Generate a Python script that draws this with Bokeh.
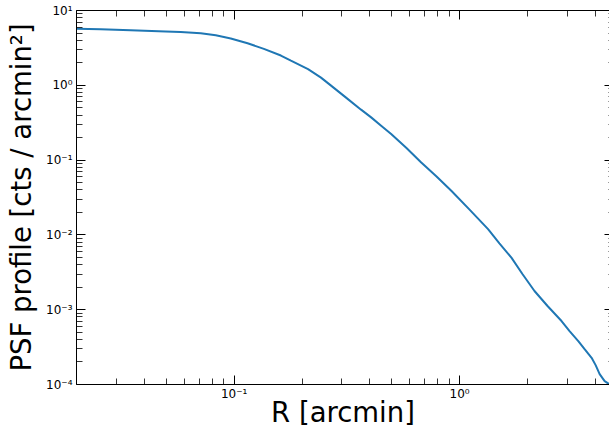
from bokeh.plotting import figure
from bokeh.models import LogAxis, FixedTicker, CustomJSTickFormatter
from bokeh.embed import file_html
from bokeh.resources import INLINE

# ---- data ----
r_arcmin = [0.0200, 0.02557, 0.03475, 0.04970, 0.05795, 0.07112, 0.08292, 0.09665,
            0.1147, 0.1355, 0.1612, 0.1786, 0.2127, 0.2428, 0.2691, 0.3136, 0.3656,
            0.4052, 0.4487, 0.4970, 0.5796, 0.6758, 0.7880, 0.9185, 1.104, 1.337,
            1.501, 1.697, 1.899, 2.148, 2.454, 2.831, 3.073, 3.359, 3.583, 3.848,
            4.010, 4.178, 4.397, 4.628]
psf_profile = [5.69, 5.60, 5.43, 5.23, 5.14, 4.97, 4.66, 4.23,
               3.65, 3.07, 2.50, 2.14, 1.646, 1.267, 0.990, 0.684, 0.4723,
               0.3724, 0.2884, 0.2233, 0.1463, 0.0930, 0.0608, 0.0389, 0.02196, 0.01193,
               0.00769, 0.00497, 0.003004, 0.001779, 0.001120, 7.05e-4, 5.18e-4, 3.81e-4,
               2.97e-4, 2.275e-4, 1.816e-4, 1.376e-4, 1.109e-4, 1.0e-4]

x_major_ticks = [0.1, 1.0]
x_tick_labels = ["10⁻¹", "10⁰"]
y_major_ticks = [1e-4, 1e-3, 1e-2, 1e-1, 1.0, 10.0]
y_tick_labels = ["10⁻⁴", "10⁻³", "10⁻²", "10⁻¹", "10⁰", "10¹"]
x_decades = [-2, -1, 0]
y_decades = [-4, -3, -2, -1, 0]
minor_mults = [2, 3, 4, 5, 6, 7, 8, 9]

x_lim = (0.02, 4.62)
y_lim = (1e-4, 10.0)

FONT = "DejaVu Sans"

x_minor = [m * 10.0 ** k for k in x_decades for m in minor_mults]
y_minor = [m * 10.0 ** k for k in y_decades for m in minor_mults]

p = figure(width=609, height=432, x_axis_type="log", y_axis_type="log",
           x_range=x_lim, y_range=y_lim, output_backend="svg",
           toolbar_location=None, min_border_left=76, min_border_right=0,
           min_border_top=10, min_border_bottom=48)
p.outline_line_color = None
p.xgrid.visible = False
p.ygrid.visible = False
p.background_fill_color = "white"
p.border_fill_color = "white"

p.line(r_arcmin, psf_profile, line_color="#1f77b4", line_width=2)

xt = FixedTicker(ticks=x_major_ticks, minor_ticks=x_minor)
yt = FixedTicker(ticks=y_major_ticks, minor_ticks=y_minor)

LABEL_CODE = """
let best = -1, bd = 1e9;
for (let i = 0; i < tvals.length; i++) {
  const d = Math.abs(Math.log10(tvals[i]) - Math.log10(tick));
  if (d < bd) { bd = d; best = i; }
}
return (best >= 0 && bd < 1e-6) ? tlabels[best] : "";
"""


def fmt(vals, labels):
    return CustomJSTickFormatter(args=dict(tvals=vals, tlabels=labels), code=LABEL_CODE)


def style(ax, labels=True):
    ax.axis_line_color = "black"
    ax.axis_line_width = 1
    ax.major_tick_line_color = "black"
    ax.minor_tick_line_color = "black"
    ax.major_tick_line_width = 1
    ax.minor_tick_line_width = 0.8
    ax.major_tick_in = 9
    ax.major_tick_out = 0
    ax.minor_tick_in = 6
    ax.minor_tick_out = 0
    if labels:
        ax.major_label_text_font = FONT
        ax.major_label_text_font_size = "12px"
        ax.major_label_text_color = "black"
        ax.axis_label_text_font = FONT
        ax.axis_label_text_font_style = "normal"
        ax.axis_label_text_color = "black"
    else:
        ax.major_label_text_font_size = "1px"
        ax.major_label_text_color = None
        ax.major_label_standoff = 0


xa = p.xaxis[0]
xa.ticker = xt
xa.formatter = fmt(x_major_ticks, x_tick_labels)
xa.axis_label = "R [arcmin]"
style(xa)
xa.axis_label_text_font_size = "27.5px"
xa.major_label_standoff = 2
xa.axis_label_standoff = -8

ya = p.yaxis[0]
ya.ticker = yt
ya.formatter = fmt(y_major_ticks, y_tick_labels)
ya.axis_label = "PSF profile [cts / arcmin²]"
style(ya)
ya.axis_label_text_font_size = "27.5px"
ya.major_label_standoff = 4
ya.axis_label_standoff = 6

top = LogAxis(ticker=xt, formatter=fmt(x_major_ticks, x_tick_labels))
style(top, labels=False)
p.add_layout(top, "above")

right = LogAxis(ticker=yt, formatter=fmt(y_major_ticks, y_tick_labels))
style(right, labels=False)
right.axis_line_color = None
right.major_tick_in = 5
right.minor_tick_in = 1
p.add_layout(right, "right")

open("out.html", "w").write(file_html(p, INLINE))
